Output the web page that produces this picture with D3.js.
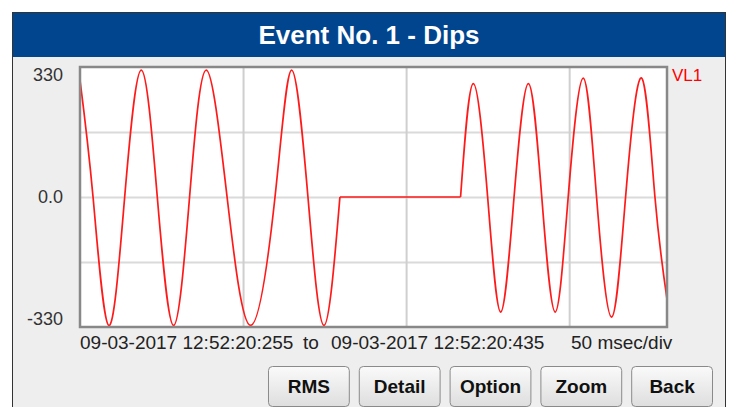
<!DOCTYPE html>
<html>
<head>
<meta charset="utf-8">
<script src="https://cdn.jsdelivr.net/npm/d3@7"></script>
<style>
  body { margin: 0; background: #ffffff; }
  svg { display: block; font-family: "Liberation Sans", Arial, sans-serif; }
</style>
</head>
<body>
<div id="chart"></div>
<script>
//Chart data (time in ms from start, voltage in V)
var preDipTime = [0, 4.0, 8.8, 13.7, 18.8, 23.7, 28.7, 33.6, 38.7, 45.1, 52.3, 59.8, 64.9, 69.9, 74.8, 79.7];
var preDipVolt = [297, 0, -326, 0, 322, 0, -326, 0, 322, 0, -326, 0, 322, 0, -326, 0];
var dipTime = [79.7, 116.7];
var dipVolt = [0, 0];
var recoveryTime = [116.7, 120.6, 125.0, 129.0, 133.1, 137.5, 141.6, 145.7, 149.7, 154.3, 158.4, 163.0, 167.3, 172.2, 176.3, 180];
var recoveryVolt = [0, 288, 0, -292, 0, 288, 0, -292, 0, 302, 0, -305, 0, 302, 0, -259];

var yTicks = [330, 0, -330];
var yGrid = [165, 0, -165];
var xGrid = [50, 100, 150];
var buttons = ["RMS", "Detail", "Option", "Zoom", "Back"];
var title = "Event No. 1 - Dips";
var channel = "VL1";
var startStamp = "09-03-2017 12:52:20:255";
var endStamp = "09-03-2017 12:52:20:435";
var scaleText = "50 msec/div";

//Constants for the SVG
var width = 730,
  height = 407;
var plot = { left: 80, top: 67, right: 667, bottom: 327 };

var svg = d3
  .select("#chart")
  .append("svg")
  .attr("width", width)
  .attr("height", height);

//Screen frame and title bar
svg.append("rect")
  .attr("x", 12.5).attr("y", 12.5)
  .attr("width", 713).attr("height", 400)
  .attr("fill", "#eeeeee")
  .attr("stroke", "#333");

svg.append("rect")
  .attr("x", 13).attr("y", 13)
  .attr("width", 712).attr("height", 44)
  .attr("fill", "#02458f");

svg.append("text")
  .attr("x", 369).attr("y", 44)
  .attr("text-anchor", "middle")
  .attr("fill", "#fff")
  .style("font-size", "26px")
  .style("font-weight", "bold")
  .text(title);

//Scales
var x = d3.scaleLinear().domain([0, 180]).range([plot.left, plot.right]);
var y = d3.scaleLinear().domain([-330, 330]).range([plot.bottom, plot.top]);

//Plot background
svg.append("rect")
  .attr("x", plot.left).attr("y", plot.top)
  .attr("width", plot.right - plot.left).attr("height", plot.bottom - plot.top)
  .attr("fill", "#fff");

//Gridlines
svg.append("g")
  .attr("class", "grid")
  .attr("transform", "translate(" + plot.left + ",0)")
  .call(d3.axisLeft(y).tickValues(yGrid).tickSize(-(plot.right - plot.left)).tickFormat(""))
  .call(function (g) { g.select(".domain").remove(); })
  .selectAll("line")
  .attr("stroke", "#dadada")
  .attr("stroke-width", 2);

svg.append("g")
  .attr("class", "grid")
  .attr("transform", "translate(0," + plot.bottom + ")")
  .call(d3.axisBottom(x).tickValues(xGrid).tickSize(-(plot.bottom - plot.top)).tickFormat(""))
  .call(function (g) { g.select(".domain").remove(); })
  .selectAll("line")
  .attr("stroke", "#cfcfcf")
  .attr("stroke-width", 2);

//Y axis labels
var yAxis = svg.append("g")
  .attr("transform", "translate(" + (plot.left - 17) + ",0)")
  .call(d3.axisLeft(y).tickValues(yTicks).tickSize(0).tickFormat(function (d) {
    return d === 0 ? "0.0" : d;
  }));
yAxis.select(".domain").remove();
yAxis.selectAll("text")
  .attr("x", 0)
  .attr("fill", "#333")
  .style("font-family", "Liberation Sans, Arial, sans-serif")
  .style("font-size", "18px");
yAxis.selectAll(".tick")
  .attr("transform", function (d) {
    var yy = d === 330 ? y(d) + 8 : d === -330 ? y(d) - 8 : y(d);
    return "translate(0," + yy + ")";
  });

//Waveform, drawn as three pieces so the dip edges stay sharp
var line = d3.line()
  .x(function (d) { return x(d[0]); })
  .y(function (d) { return y(d[1]); });

var pieces = [
  { t: preDipTime, v: preDipVolt, curve: d3.curveNatural },
  { t: dipTime, v: dipVolt, curve: d3.curveLinear },
  { t: recoveryTime, v: recoveryVolt, curve: d3.curveNatural }
];

svg.append("g")
  .selectAll("path")
  .data(pieces)
  .enter()
  .append("path")
  .attr("fill", "none")
  .attr("stroke", "#ff1a1a")
  .attr("stroke-width", 1.7)
  .attr("d", function (p) {
    return line.curve(p.curve)(d3.zip(p.t, p.v));
  });

//Plot border
svg.append("rect")
  .attr("x", plot.left).attr("y", plot.top)
  .attr("width", plot.right - plot.left).attr("height", plot.bottom - plot.top)
  .attr("fill", "none")
  .attr("stroke", "#888")
  .attr("stroke-width", 2.5);

//Channel name
svg.append("text")
  .attr("x", 672).attr("y", 81)
  .attr("fill", "#f00")
  .style("font-size", "17px")
  .text(channel);

//Time range line
var info = svg.append("g").style("font-size", "19px").attr("fill", "#222");
info.append("text").attr("x", 80).attr("y", 349).text(startStamp);
info.append("text").attr("x", 303).attr("y", 349).text("to");
info.append("text").attr("x", 331).attr("y", 349).text(endStamp);
info.append("text").attr("x", 571).attr("y", 349).text(scaleText);

//Buttons
var grad = svg.append("defs").append("linearGradient")
  .attr("id", "btn").attr("x1", 0).attr("y1", 0).attr("x2", 0).attr("y2", 1);
grad.append("stop").attr("offset", "0%").attr("stop-color", "#fafafa");
grad.append("stop").attr("offset", "100%").attr("stop-color", "#dedede");

var bx = d3.scaleBand().domain(buttons).range([263, 717]).paddingInner(0.11).paddingOuter(0.055);

var btn = svg.append("g")
  .selectAll("g")
  .data(buttons)
  .enter()
  .append("g")
  .attr("transform", function (d) { return "translate(" + bx(d) + ",366)"; });

btn.append("rect")
  .attr("x", 0.5).attr("y", 0.5)
  .attr("width", bx.bandwidth()).attr("height", 40)
  .attr("rx", 4)
  .attr("fill", "url(#btn)")
  .attr("stroke", "#8a8a8a");

btn.append("text")
  .attr("x", bx.bandwidth() / 2 + 0.5)
  .attr("y", 27)
  .attr("text-anchor", "middle")
  .style("font-size", "19px")
  .style("font-weight", "bold")
  .attr("fill", "#111")
  .text(function (d) { return d; });
</script>
</body>
</html>
